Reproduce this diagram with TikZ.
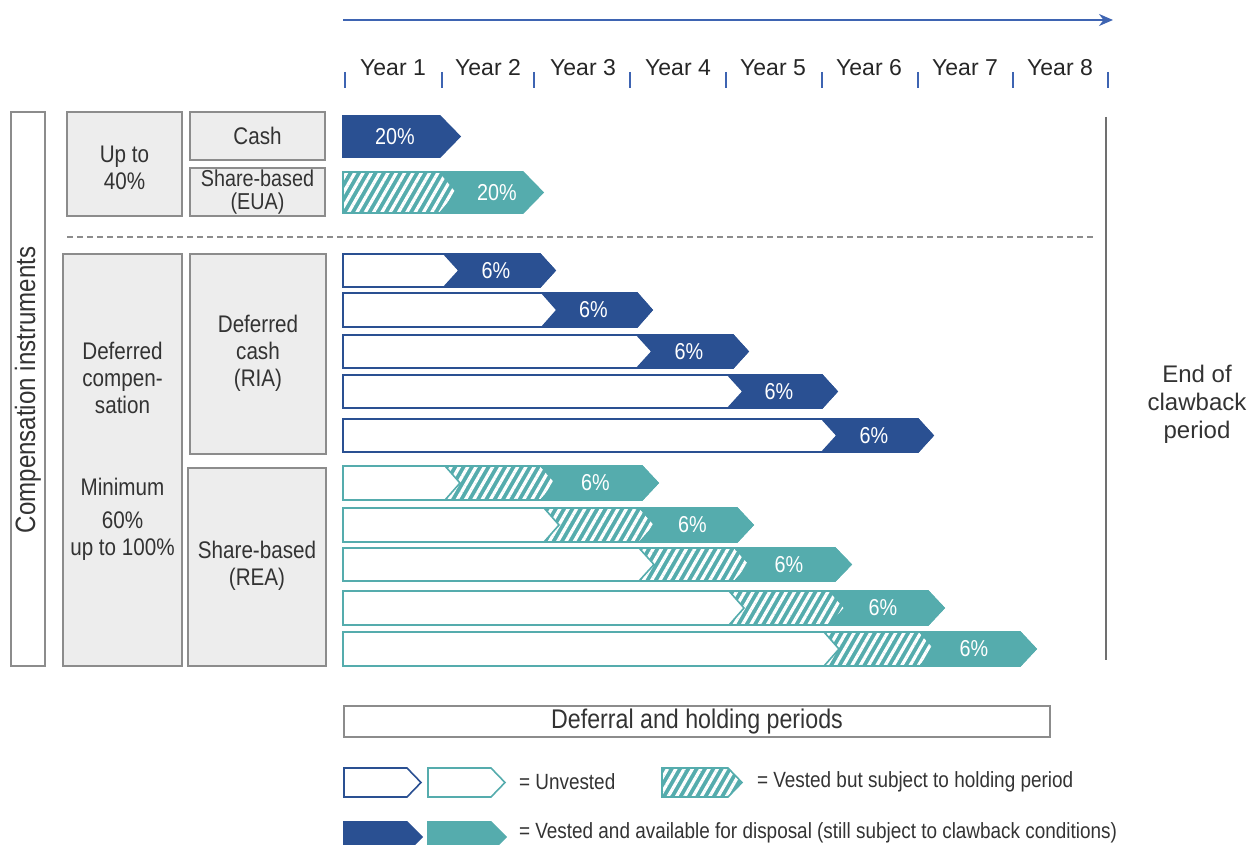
\documentclass[tikz,border=0pt]{standalone}
\usepackage{fontspec}
\setmainfont{Liberation Sans}
\newfontfamily\condfont[FakeStretch=0.86]{Liberation Sans}
\usetikzlibrary{arrows.meta,patterns.meta}

\definecolor{darkblue}{HTML}{2A5092}
\definecolor{tealc}{HTML}{55ACAD}
\definecolor{axisblue}{HTML}{3E64B2}
\definecolor{boxgray}{HTML}{8C8C8C}
\definecolor{boxfill}{HTML}{EDEDED}
\definecolor{txt}{HTML}{333333}

% one piece of a bar: [style]{x left}{x flat end}{y top}{y bottom}{notch}{tip}
\newcommand{\barpiece}[7][]{%
    \pgfmathsetmacro{\ym}{(#4+#5)/2}
    \draw[#1] (#2,#4) -- (#3,#4) -- (#3+#7,\ym) -- (#3,#5) -- (#2,#5) -- (#2+#6,\ym) -- cycle;
}

\begin{document}
\begin{tikzpicture}[x=0.5pt, y=-0.5pt,
    lbl/.style={font=\condfont\fontsize{12}{13.5}\selectfont, text=txt, align=center},
    yr/.style={font=\fontsize{11.5}{12}\selectfont, text=black!85},
    pct/.style={font=\condfont\fontsize{11.5}{12}\selectfont, text=white},
    leg/.style={font=\condfont\fontsize{11}{12}\selectfont, text=txt, anchor=west},
    graybox/.style={draw=boxgray, fill=boxfill, line width=0.9pt},
    unvblue/.style={draw=darkblue, fill=white, line width=0.8pt},
    unvteal/.style={draw=tealc, fill=white, line width=0.8pt},
    vblue/.style={draw=darkblue, fill=darkblue, line width=0.8pt},
    vteal/.style={draw=tealc, fill=tealc, line width=0.8pt},
    held/.style={draw=tealc, line width=0.8pt, preaction={fill=tealc},
        pattern={Lines[angle=60,distance=3.6pt,line width=1.6pt]}, pattern color=white},
]
    \useasboundingbox (0,0) rectangle (1248,845);
    \clip (0,0) rectangle (1248,845);

    % time axis
    \coordinate (ax0) at (343,20);
    \coordinate (ax1) at (1113,20);
    \draw[axisblue, line width=1pt, -{Stealth[length=7pt,width=6pt]}] (ax0) -- (ax1);
    \foreach \x in {345,442,534,630,726,822,918,1013,1108}
        \draw[axisblue, line width=1pt] (\x,72) -- (\x,88);
    \foreach \n/\x in {1/393,2/488,3/583,4/678,5/773,6/869,7/965,8/1060}
        \node[yr] (year\n) at (\x,68) {Year \n};

    % instruments
    \draw[draw=boxgray, fill=white, line width=0.9pt] (11,112) rectangle (45,666);
    \node[lbl, font=\condfont\fontsize{14}{15}\selectfont, rotate=90] (instr) at (28,390) {Compensation instruments};

    \draw[graybox] (67,112) rectangle (182,216);
    \node[lbl] (upto) at (124.5,168) {Up to\\40\%};
    \draw[graybox] (190,112) rectangle (325,160);
    \node[lbl] (cash) at (257.5,136) {Cash};
    \draw[graybox] (190,168) rectangle (325,216);
    \node[lbl, font=\condfont\fontsize{11.5}{13}\selectfont] (eua) at (257.5,192.5) {Share-based\\[-1.5pt](EUA)};

    \draw[graybox] (63,254) rectangle (182,666);
    \node[lbl] (defcomp) at (122.5,378) {Deferred\\compen-\\sation};
    \node[lbl] (minimum) at (122.5,519) {Minimum\\[3pt]60\%\\up to 100\%};
    \draw[graybox] (190,254) rectangle (326,454);
    \node[lbl] (ria) at (258,353) {Deferred\\cash\\(RIA)};
    \draw[graybox] (188,468) rectangle (326,666);
    \node[lbl] (rea) at (257,566) {Share-based\\(REA)};

    \coordinate (sep0) at (67,237);
    \coordinate (sep1) at (1093,237);
    \draw[boxgray, dash pattern=on 3pt off 2pt, line width=0.6pt] (sep0) -- (sep1);

    % upfront
    \barpiece[vblue]{343}{440}{116}{157}{0}{20}
    \node[pct] (cashpct) at (395,136.5) {20\%};
    \barpiece[vteal]{343}{523}{172}{213}{0}{20}
    \barpiece[held]{343}{440}{172}{213}{0}{17}
    \node[pct] (euapct) at (497,192.5) {20\%};

    % deferred cash
    \foreach \i/\yt/\yb/\xl/\xr in {1/254/287/444/540, 2/293/327/542/637,
        3/335/368/637/733, 4/375/408/728/822, 5/419/452/822/918}{
        \barpiece[unvblue]{343}{\xr}{\yt}{\yb}{0}{15}
        \barpiece[vblue]{\xl}{\xr}{\yt}{\yb}{15}{15}
        \node[pct] (riapct\i) at ({(\xl+\xr)/2+4},{(\yt+\yb)/2}) {6\%};
    }

    % deferred shares
    \foreach \i/\yt/\yb/\xa/\xb/\xc in {1/466/500/445/541/642, 2/508/542/544/640/737,
        3/548/581/639/735/835, 4/591/625/729/830/928, 5/632/666/824/920/1020}{
        \barpiece[unvteal]{343}{\xc}{\yt}{\yb}{0}{16}
        \barpiece[held]{\xa}{\xb}{\yt}{\yb}{15}{15}
        \barpiece[vteal]{\xb}{\xc}{\yt}{\yb}{15}{16}
        \node[pct] (reapct\i) at ({(\xb+\xc)/2+4},{(\yt+\yb)/2}) {6\%};
    }

    % clawback
    \coordinate (cb0) at (1106,117);
    \coordinate (cb1) at (1106,660);
    \draw[boxgray!80!black, line width=1.3pt] (cb0) -- (cb1);
    \node[font=\fontsize{12}{14}\selectfont, align=center, text=txt] (clawback) at (1197,404) {End of\\clawback\\period};

    % periods and legend
    \draw[boxgray, line width=0.8pt] (344,706) rectangle (1050,737);
    \node[font=\condfont\fontsize{13.5}{14}\selectfont, text=txt] (periods) at (697,721.5) {Deferral and holding periods};

    \barpiece[unvblue]{344}{407}{768}{797}{0}{14}
    \barpiece[unvteal]{428}{491}{768}{797}{0}{14}
    \node[leg] (unvested) at (512,782) {= Unvested};
    \barpiece[held]{662}{728}{768}{797}{0}{14}
    \node[leg] (holding) at (750,782) {= Vested but subject to holding period};
    \barpiece[vblue]{344}{407}{822}{852}{0}{15}
    \barpiece[vteal]{428}{491}{822}{852}{0}{15}
    \node[leg] (disposal) at (512,833) {= Vested and available for disposal (still subject to clawback conditions)};
\end{tikzpicture}
\end{document}
